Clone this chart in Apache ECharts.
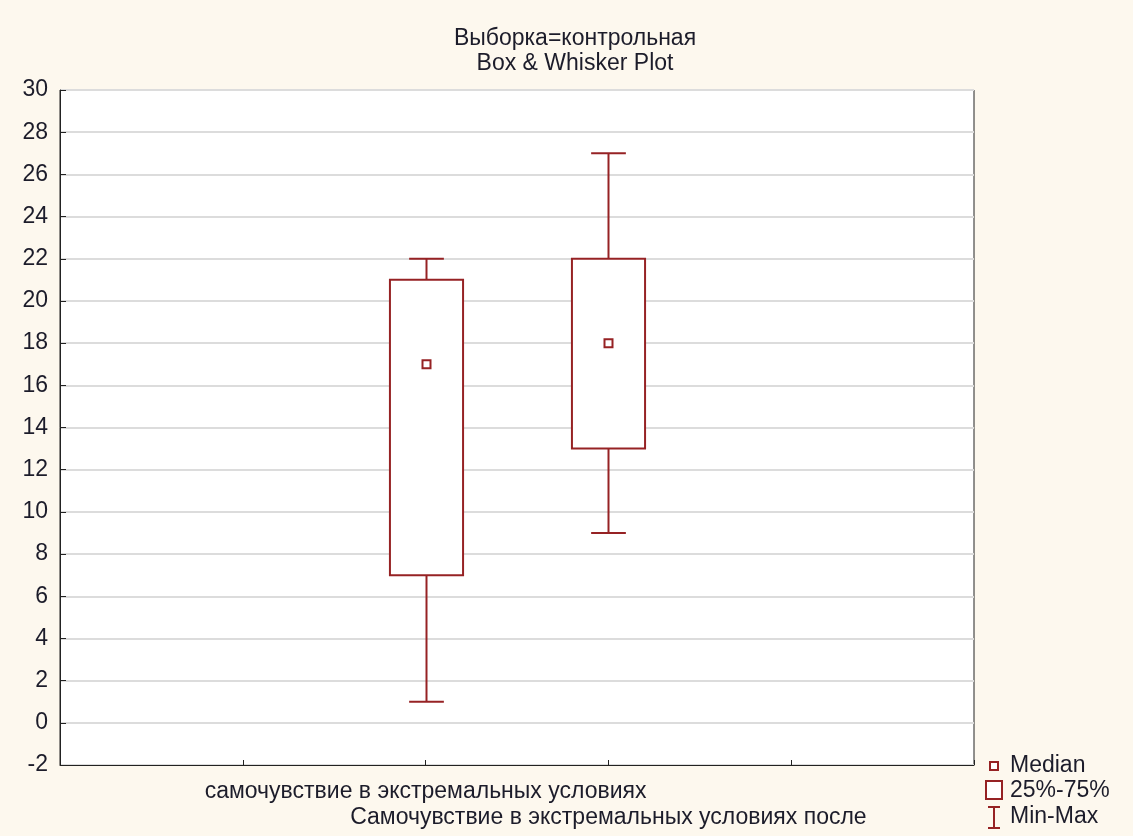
<!DOCTYPE html>
<html>
<head>
<meta charset="utf-8">
<script src="https://cdn.jsdelivr.net/npm/echarts@6/dist/echarts.min.js"></script>
<style>
  html, body { margin: 0; padding: 0; background: #fdf8ee; }
  #chart { width: 1133px; height: 836px; }
</style>
</head>
<body>
<div id="chart"></div>
<script>
// Category slots along x (boxes sit on slots 2 and 3)
const categories = ['', ' ', 'самочувствие в экстремальных условиях', 'Самочувствие в экстремальных условиях после', '  ', '   '];
const boxSlots = [2, 3];
const minValues = [1, 9];
const q1Values = [7, 13];
const medianValues = [17, 18];
const q3Values = [21, 22];
const maxValues = [22, 27];
const yTicks = { min: -2, max: 30, interval: 2 };

const MARK = '#962224';
const TEXT = '#1c1c2a';
const font = 'Liberation Sans, Arial, sans-serif';
const FS = 23;

const boxData = boxSlots.map((s, i) => [s, minValues[i], q1Values[i], medianValues[i], q3Values[i], maxValues[i]]);

const chart = echarts.init(document.getElementById('chart'));

function renderBox(params, api) {
  const x = api.value(0);
  const pMin = api.coord([x, api.value(1)]);
  const pQ1 = api.coord([x, api.value(2)]);
  const pMed = api.coord([x, api.value(3)]);
  const pQ3 = api.coord([x, api.value(4)]);
  const pMax = api.coord([x, api.value(5)]);
  const slot = api.size([1, 0])[0];
  const boxW = slot * 0.4;
  const capW = slot * 0.19;
  const cx = Math.round(pQ1[0]) + 0.5;
  const st = { stroke: MARK, lineWidth: 2, fill: null };
  return {
    type: 'group',
    children: [
      { type: 'line', shape: { x1: cx, y1: pQ1[1], x2: cx, y2: pMin[1] }, style: st },
      { type: 'line', shape: { x1: cx, y1: pQ3[1], x2: cx, y2: pMax[1] }, style: st },
      { type: 'line', shape: { x1: cx - capW / 2, y1: pMin[1], x2: cx + capW / 2, y2: pMin[1] }, style: st },
      { type: 'line', shape: { x1: cx - capW / 2, y1: pMax[1], x2: cx + capW / 2, y2: pMax[1] }, style: st },
      { type: 'rect', shape: { x: cx - boxW / 2, y: pQ3[1], width: boxW, height: pQ1[1] - pQ3[1] }, style: { stroke: MARK, lineWidth: 2, fill: '#ffffff' } },
      { type: 'rect', shape: { x: cx - 4, y: pMed[1] - 4, width: 8, height: 8 }, style: { stroke: MARK, lineWidth: 2, fill: '#ffffff' } }
    ]
  };
}

chart.setOption({
  backgroundColor: '#fdf8ee',
  animation: false,
  title: {
    text: 'Выборка=контрольная\nBox & Whisker Plot',
    left: 570,
    textAlign: 'center',
    top: 21,
    textStyle: { fontFamily: font, fontSize: FS, fontWeight: 'normal', color: TEXT, lineHeight: 25 }
  },
  grid: {
    left: 60, top: 90, width: 914, height: 675,
    outerBoundsMode: 'none',
    containLabel: false,
    show: true, backgroundColor: '#ffffff', borderColor: '#222222', borderWidth: 1
  },
  xAxis: {
    type: 'category',
    data: categories,
    boundaryGap: false,
    axisLine: { onZero: false, lineStyle: { color: '#222222' } },
    axisTick: { inside: true, length: 5, interval: 0, lineStyle: { color: '#222222' } },
    splitLine: { show: false },
    axisLabel: {
      interval: 0,
      margin: 15,
      formatter: (v, i) => i === boxSlots[0] ? '{a|' + v + '}' : (i === boxSlots[1] ? '{b|' + v + '}' : ''),
      rich: {
        a: { fontFamily: font, fontSize: FS, color: TEXT },
        b: { fontFamily: font, fontSize: FS, color: TEXT, padding: [26, 0, 0, 0] }
      }
    }
  },
  yAxis: {
    type: 'value',
    min: yTicks.min, max: yTicks.max, interval: yTicks.interval,
    axisLine: { show: true, lineStyle: { color: '#222222' } },
    axisTick: { show: true, inside: true, length: 6, lineStyle: { color: '#222222' } },
    splitLine: { show: true, lineStyle: { color: '#dcdcdc', width: 2 } },
    axisLabel: { fontFamily: font, fontSize: FS, color: TEXT, margin: 12 }
  },
  series: [{
    type: 'custom',
    renderItem: renderBox,
    data: boxData,
    encode: { x: 0, y: [1, 2, 3, 4, 5] },
    z: 10
  }],
  graphic: [
    { type: 'rect', shape: { x: 990, y: 762, width: 8, height: 8 }, style: { stroke: MARK, lineWidth: 2, fill: '#ffffff' } },
    { type: 'text', x: 1010, y: 766, style: { text: 'Median', font: FS + 'px ' + font, fill: TEXT, textVerticalAlign: 'middle' } },
    { type: 'rect', shape: { x: 986, y: 781, width: 16, height: 18 }, style: { stroke: MARK, lineWidth: 2, fill: '#ffffff' } },
    { type: 'text', x: 1010, y: 791, style: { text: '25%-75%', font: FS + 'px ' + font, fill: TEXT, textVerticalAlign: 'middle' } },
    { type: 'line', shape: { x1: 994, y1: 807, x2: 994, y2: 828 }, style: { stroke: MARK, lineWidth: 2 } },
    { type: 'line', shape: { x1: 988, y1: 807, x2: 1000, y2: 807 }, style: { stroke: MARK, lineWidth: 2 } },
    { type: 'line', shape: { x1: 988, y1: 828, x2: 1000, y2: 828 }, style: { stroke: MARK, lineWidth: 2 } },
    { type: 'text', x: 1010, y: 817, style: { text: 'Min-Max', font: FS + 'px ' + font, fill: TEXT, textVerticalAlign: 'middle' } }
  ]
});
</script>
</body>
</html>
